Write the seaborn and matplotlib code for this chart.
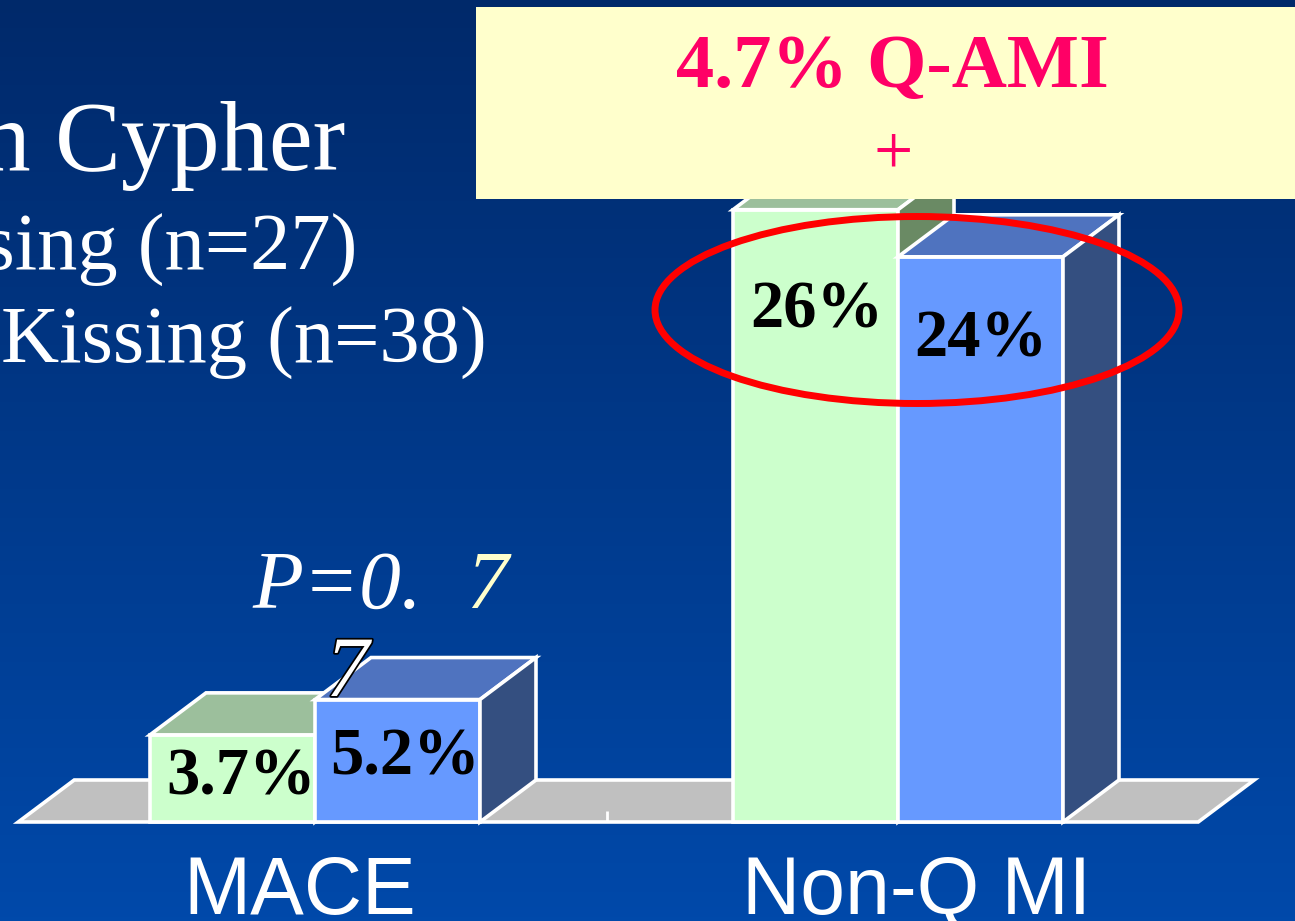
import numpy as np
import pandas as pd
import matplotlib
matplotlib.use("Agg")
import matplotlib.pyplot as plt
import matplotlib.patheffects as pe
from matplotlib.patches import Polygon, Ellipse, Rectangle
import seaborn as sns

# ---- data ----
categories = ["MACE", "Non-Q MI"]
groups = ["Non-Kissing", "Kissing"]
non_kissing = [3.7, 26.0]
kissing = [5.2, 24.0]
legend_lines = ["with Cypher", "Non-Kissing (n=27)", "Kissing (n=38)"]
p_value_text = "P=0."
p_value_digit = "7"
callout_title = "4.7% Q-AMI"
callout_plus = "+"

# ---- colours ----
FRONT = {"Non-Kissing": "#ccffcc", "Kissing": "#6699ff"}
TOP = {"Non-Kissing": "#9cbf9c", "Kissing": "#4f73bf"}
SIDE = {"Non-Kissing": "#6a8a64", "Kissing": "#344f80"}
EDGE_LW = 2.6

# ---- canvas ----
W, H = 1295, 921
DPI = 100
fig = plt.figure(figsize=(W / DPI, H / DPI), dpi=DPI)

# vertical navy gradient behind everything
bg = fig.add_axes([0, 0, 1, 1], zorder=-1)
top_rgb = np.array([0, 41, 106]) / 255
bot_rgb = np.array([0, 73, 170]) / 255
t = np.linspace(0, 1, 256).reshape(-1, 1, 1)
grad = (1 - t) * top_rgb + t * bot_rgb
bg.imshow(grad, aspect="auto", extent=(0, 1, 0, 1), origin="upper")
bg.axis("off")

ax = fig.add_axes([0, 0, 1, 1])
ax.patch.set_alpha(0)

X0, Y0 = 315.0, 822.0   # pixel position of (first category, 0 %)
SX, SY = 583.0, 23.55   # pixels per category step / per percentage point
DX, DY = 56 / SX, 42 / SY  # 3-D depth offset in data units


def set_limits():
    ax.set_xlim(-X0 / SX, (W - X0) / SX)
    ax.set_ylim(-(H - Y0) / SY, Y0 / SY)


def px(x, y):
    """Figure pixel (from top-left) -> axes fraction."""
    return x / W, 1 - y / H


df = pd.DataFrame({
    "category": categories + categories,
    "group": [groups[0]] * len(categories) + [groups[1]] * len(categories),
    "value": non_kissing + kissing,
})

sns.barplot(data=df, x="category", y="value", hue="group",
            order=categories, hue_order=groups, palette=FRONT,
            saturation=1, width=0.566, gap=0, errorbar=None,
            edgecolor="white", linewidth=EDGE_LW, legend=False, ax=ax)
set_limits()
ax.axis("off")

# floor slab
floor_left, floor_right = -0.509, 1.515
ax.add_patch(Polygon([(floor_left, 0), (floor_right, 0),
                      (floor_right + DX, DY), (floor_left + DX, DY)],
                     closed=True, fc="#c0c0c0", ec="white", lw=EDGE_LW, zorder=1))
ax.plot([0.5, 0.5], [0, 0.45], color="white", lw=2, zorder=1.5,
        solid_capstyle="butt")

# top and side faces of every bar, plus its value label
label_shift_px = [[(9, -13), (1, -71)], [(8, -28), (0, -53)]]
for gi, (level, container) in enumerate(zip(groups, ax.containers)):
    z = 2 + gi
    for bi, bar in enumerate(container):
        x, w, h = bar.get_x(), bar.get_width(), bar.get_height()
        bar.set_zorder(z)
        ax.add_patch(Polygon([(x, h), (x + w, h), (x + w + DX, h + DY), (x + DX, h + DY)],
                             closed=True, fc=TOP[level], ec="white", lw=EDGE_LW, zorder=z))
        ax.add_patch(Polygon([(x + w, 0), (x + w + DX, DY), (x + w + DX, h + DY), (x + w, h)],
                             closed=True, fc=SIDE[level], ec="white", lw=EDGE_LW, zorder=z))
        dxp, dyp = label_shift_px[gi][bi]
        ax.annotate(f"{h:g}%", xy=(x + w / 2, h), xytext=(dxp, dyp),
                    textcoords="offset pixels", ha="center", va="top",
                    fontfamily="Liberation Serif", fontweight="bold",
                    fontsize=48, color="black", zorder=8)

# category names under the floor
cat_shift_px = [-15, 19]
for i, (cat, sh) in enumerate(zip(categories, cat_shift_px)):
    ax.annotate(cat, xy=(i, 0), xytext=(sh, -92), textcoords="offset pixels",
                ha="center", va="baseline", fontfamily="Liberation Sans",
                fontsize=58, color="white", zorder=8)

# group legend text in the upper left
legend_specs = [(345, 170, 71), (357, 270, 58), (487, 363, 58)]
for line, (xr, yb, fs) in zip(legend_lines, legend_specs):
    ax.text(*px(xr, yb), line, transform=ax.transAxes, ha="right", va="baseline",
            fontfamily="Liberation Serif", fontsize=fs, color="white", zorder=8)

# p-value
ax.text(*px(252, 608), p_value_text, transform=ax.transAxes, ha="left", va="baseline",
        fontfamily="Liberation Serif", fontstyle="italic", fontsize=60, color="white", zorder=8)
ax.text(*px(466, 608), p_value_digit, transform=ax.transAxes, ha="left", va="baseline",
        fontfamily="Liberation Serif", fontstyle="italic", fontsize=60, color="#ffffcc", zorder=8)
ax.text(*px(326, 696), p_value_digit, transform=ax.transAxes, ha="left", va="baseline",
        fontfamily="Liberation Serif", fontstyle="italic", fontsize=62, color="white", zorder=9,
        path_effects=[pe.withStroke(linewidth=2.5, foreground="black")])

# red emphasis ring around the Non-Q MI values
ax.add_patch(Ellipse(((917 - X0) / SX, (Y0 - 310) / SY), 524 / SX, 187 / SY,
                     fill=False, ec="#ff0000", lw=5, zorder=9))

# yellow callout box
bx, by = px(476, 199)
ax.add_patch(Rectangle((bx, by), 1.02 - bx, (199 - 7) / H, transform=ax.transAxes,
                       fc="#ffffcc", ec="none", zorder=10, clip_on=False))
ax.text(*px(892, 87), callout_title, transform=ax.transAxes, ha="center", va="baseline",
        fontfamily="Liberation Serif", fontweight="bold", fontsize=55, color="#ff0066", zorder=11)
ax.text(*px(893, 173), callout_plus, transform=ax.transAxes, ha="center", va="baseline",
        fontfamily="Liberation Serif", fontsize=50, color="#ff0066", zorder=11)

fig.savefig("out.png", dpi=DPI)
